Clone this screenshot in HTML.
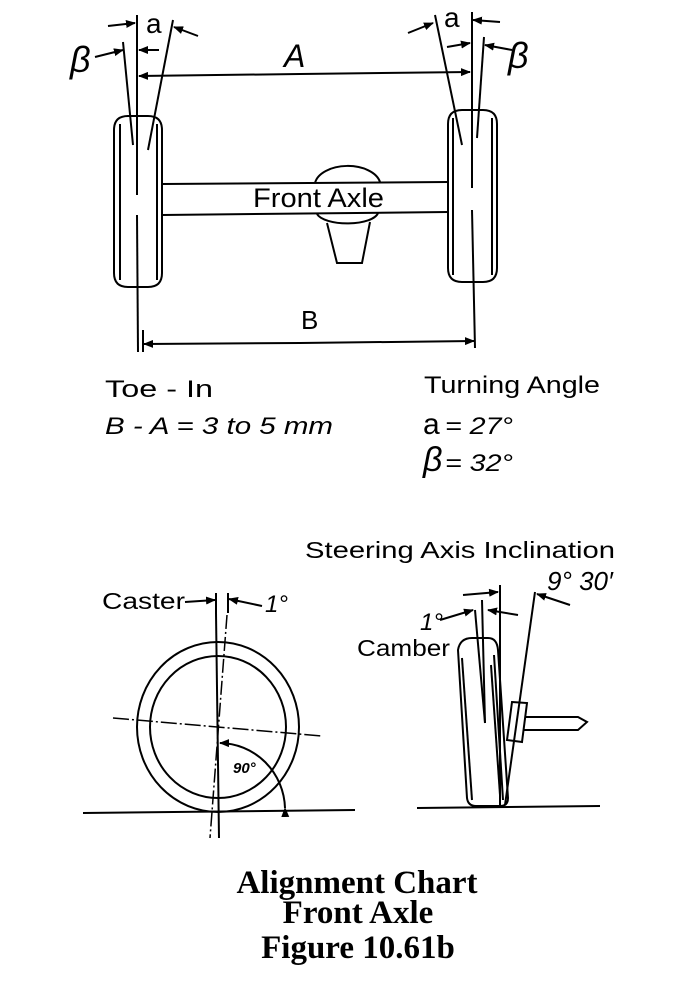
<!DOCTYPE html>
<html><head><meta charset="utf-8"><style>
html,body{margin:0;padding:0;background:#fff;}
svg{display:block;}
text{font-family:"Liberation Sans",sans-serif;fill:#000;}
.s{font-family:"Liberation Serif",serif;font-weight:bold;}
</style></head><body>
<svg width="682" height="1002" viewBox="0 0 682 1002" xmlns="http://www.w3.org/2000/svg">
<defs>
<marker id="ah" markerWidth="10" markerHeight="8" refX="9" refY="4" orient="auto" markerUnits="userSpaceOnUse">
<path d="M0,0 L10,4 L0,8 z" fill="#000"/></marker>
</defs>
<g stroke="#000" stroke-width="2" fill="none">
<path d="M114,130 Q114,116 128,116 L148,116 Q162,116 162,130 L162,273 Q162,287 148,287 L128,287 Q114,287 114,273 Z"/>
<line x1="120" y1="124" x2="120" y2="280"/>
<line x1="157" y1="124" x2="157" y2="280"/>
<line x1="137" y1="15" x2="137" y2="195"/>
<line x1="137" y1="215" x2="138" y2="352"/>
<line x1="123" y1="42" x2="133" y2="145"/>
<line x1="173" y1="20" x2="148" y2="150"/>
<line x1="108" y1="26" x2="135" y2="23" marker-end="url(#ah)"/>
<line x1="198" y1="36" x2="174" y2="27" marker-end="url(#ah)"/>
<line x1="95" y1="57" x2="123" y2="50" marker-end="url(#ah)"/>
<line x1="159" y1="50" x2="139" y2="50" marker-end="url(#ah)"/>
<line x1="300" y1="74" x2="139" y2="76" marker-end="url(#ah)"/>
<line x1="300" y1="74" x2="470" y2="72" marker-end="url(#ah)"/>
<line x1="162" y1="184" x2="448" y2="182"/>
<line x1="162" y1="215" x2="448" y2="212"/>
<path d="M315,183 A33,20 0 0 1 380,182"/>
<path d="M317,214 A31,12 0 0 0 378,213"/>
<path d="M327,223 L337,263 L362,263 L370,222"/>
<path d="M448,124 Q448,110 462,110 L483,110 Q497,110 497,124 L497,268 Q497,282 483,282 L462,282 Q448,282 448,268 Z"/>
<line x1="453" y1="118" x2="453" y2="275"/>
<line x1="492" y1="118" x2="492" y2="275"/>
<line x1="472" y1="12" x2="472" y2="188"/>
<line x1="472" y1="210" x2="475" y2="348"/>
<line x1="435" y1="15" x2="462" y2="145"/>
<line x1="484" y1="37" x2="477" y2="138"/>
<line x1="408" y1="33" x2="433" y2="23" marker-end="url(#ah)"/>
<line x1="500" y1="22" x2="473" y2="20" marker-end="url(#ah)"/>
<line x1="447" y1="47" x2="470" y2="43" marker-end="url(#ah)"/>
<line x1="512" y1="50" x2="485" y2="45" marker-end="url(#ah)"/>
<line x1="143" y1="330" x2="143" y2="352"/>
<line x1="300" y1="343" x2="144" y2="344" marker-end="url(#ah)"/>
<line x1="300" y1="343" x2="474" y2="341" marker-end="url(#ah)"/>
<ellipse cx="218" cy="727" rx="81" ry="85"/>
<ellipse cx="218" cy="727" rx="68" ry="71"/>
<line x1="216" y1="613" x2="219" y2="838"/>
<line x1="227" y1="615" x2="210" y2="838" stroke-dasharray="14,3,2,3" stroke-width="1.5"/>
<line x1="113" y1="718" x2="322" y2="736" stroke-dasharray="16,3,2,3" stroke-width="1.5"/>
<line x1="83" y1="813" x2="355" y2="810"/>
<line x1="216" y1="593" x2="216" y2="613"/>
<line x1="228" y1="593" x2="228" y2="613"/>
<line x1="185" y1="602" x2="215" y2="600" marker-end="url(#ah)"/>
<line x1="262" y1="606" x2="229" y2="599" marker-end="url(#ah)"/>
<path d="M285,808 A66,67 0 0 0 220,743" marker-start="url(#ah)" marker-end="url(#ah)"/>
<path d="M458,650 Q460,638 472,638 L488,638 Q497,638 498,650 L508,798 Q508,806 500,806 L476,806 Q468,806 467,798 Z"/>
<line x1="462" y1="658" x2="472" y2="800"/>
<line x1="494" y1="655" x2="503" y2="800"/>
<line x1="491" y1="665" x2="500" y2="795"/>
<path d="M512,702 L527,703 L522,742 L507,740 Z"/>
<path d="M525,717 L578,717 L587,722 L578,730 L524,730"/>
<line x1="500" y1="585" x2="500" y2="806"/>
<line x1="475" y1="610" x2="485" y2="723"/>
<line x1="482" y1="600" x2="485" y2="723"/>
<line x1="535" y1="592" x2="505" y2="805"/>
<line x1="417" y1="808" x2="600" y2="806"/>
<line x1="463" y1="595" x2="498" y2="592" marker-end="url(#ah)"/>
<line x1="440" y1="620" x2="473" y2="610" marker-end="url(#ah)"/>
<line x1="518" y1="615" x2="488" y2="610" marker-end="url(#ah)"/>
<line x1="570" y1="605" x2="537" y2="594" marker-end="url(#ah)"/>
</g>
<text x="70" y="72" font-size="36" font-style="italic">β</text>
<text x="146" y="33" font-size="28">a</text>
<text x="284" y="67" font-size="32" font-style="italic">A</text>
<text x="444" y="27" font-size="28">a</text>
<text x="508" y="68" font-size="36" font-style="italic">β</text>
<text x="253" y="207" font-size="27" textLength="131" lengthAdjust="spacingAndGlyphs">Front Axle</text>
<text x="301" y="329" font-size="26">B</text>
<text x="105" y="397" font-size="24" textLength="108" lengthAdjust="spacingAndGlyphs">Toe  -  In</text>
<text x="105" y="434" font-size="24" font-style="italic" textLength="228" lengthAdjust="spacingAndGlyphs">B  - A = 3  to 5  mm</text>
<text x="424" y="393" font-size="24" textLength="176" lengthAdjust="spacingAndGlyphs">Turning  Angle</text>
<text x="423" y="434" font-size="30">a</text><text x="445" y="434" font-size="24" font-style="italic" textLength="68" lengthAdjust="spacingAndGlyphs">= 27°</text>
<text x="423" y="471" font-size="34" font-style="italic">β</text><text x="445" y="471" font-size="24" font-style="italic" textLength="68" lengthAdjust="spacingAndGlyphs">= 32°</text>
<text x="102" y="609" font-size="23" textLength="83" lengthAdjust="spacingAndGlyphs">Caster</text>
<text x="265" y="612" font-size="24" font-style="italic">1°</text>
<text x="233" y="773" font-size="15" font-style="italic" font-weight="bold">90°</text>
<text x="305" y="558" font-size="23" textLength="310" lengthAdjust="spacingAndGlyphs">Steering Axis Inclination</text>
<text x="547" y="590" font-size="26" font-style="italic">9° 30′</text>
<text x="420" y="630" font-size="24" font-style="italic">1°</text>
<text x="357" y="656" font-size="23" textLength="93" lengthAdjust="spacingAndGlyphs">Camber</text>
<text class="s" x="357" y="893" font-size="33" text-anchor="middle">Alignment Chart</text>
<text class="s" x="358" y="923" font-size="33" text-anchor="middle">Front Axle</text>
<text class="s" x="358" y="958" font-size="33" text-anchor="middle">Figure 10.61b</text>
</svg>
</body></html>
